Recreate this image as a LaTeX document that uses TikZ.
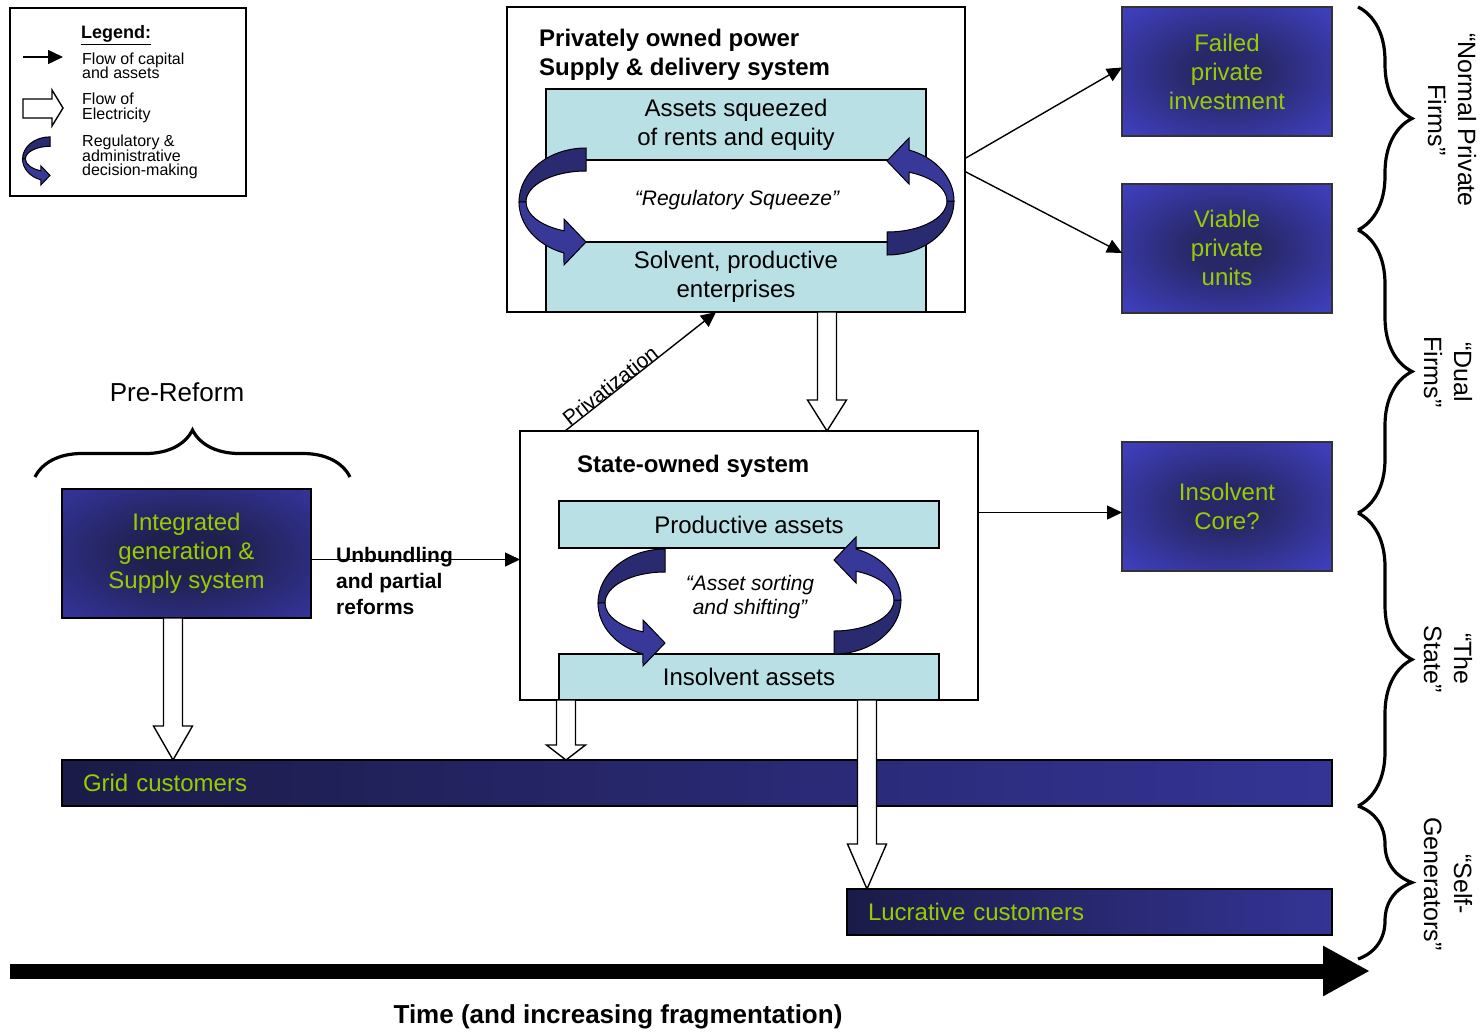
\documentclass[tikz,border=0pt]{standalone}
\usepackage{fontspec}
\setmainfont{Liberation Sans}
\usetikzlibrary{arrows.meta,calc,decorations.pathreplacing}

\definecolor{tealbox}{RGB}{185,224,228}
\definecolor{boxblue}{RGB}{63,63,190}
\definecolor{boxdark}{RGB}{40,40,105}
\definecolor{intblue}{RGB}{51,51,153}
\definecolor{intdark}{RGB}{32,32,78}
\definecolor{barleft}{RGB}{27,27,72}
\definecolor{barright}{RGB}{52,52,150}
\definecolor{limetext}{RGB}{153,204,0}
\definecolor{ribbondark}{RGB}{42,42,112}
\definecolor{ribbonlight}{RGB}{56,56,152}

\pgfdeclareradialshading{glowblue}{\pgfpoint{0bp}{0bp}}{%
  color(0bp)=(boxdark); color(9bp)=(boxdark); color(34bp)=(boxblue); color(50bp)=(boxblue)}
\pgfdeclareradialshading{glowint}{\pgfpoint{0bp}{0bp}}{%
  color(0bp)=(intdark); color(9bp)=(intdark); color(34bp)=(intblue); color(50bp)=(intblue)}

\lineskiplimit=-20pt

% hollow electricity arrow pointing down: from, to, head length
\newcommand{\elecdown}[3]{%
  \draw[elec] let \p1=#1, \p2=#2 in
    (\x1-9.5pt,\y1) -- (\x1-9.5pt,\y2+#3pt) -- (\x1-19.5pt,\y2+#3pt) -- (\x1,\y2)
    -- (\x1+19.5pt,\y2+#3pt) -- (\x1+9.5pt,\y2+#3pt) -- (\x1+9.5pt,\y1) -- cycle;}

\begin{document}
\begin{tikzpicture}[x=1pt, y=-1pt,
    sysbox/.style={draw, line width=1.6pt, fill=white, anchor=north west, outer sep=0pt},
    assetbox/.style={draw, line width=1.4pt, fill=tealbox, align=center, anchor=north west, outer sep=0pt,
      minimum width=380pt, font=\fontsize{24}{29}\selectfont},
    outcome/.style={draw=black!80, line width=2pt, shade, shading=glowblue, text=limetext, align=center,
      outer sep=0pt, minimum width=210pt, minimum height=129pt, font=\fontsize{24}{29}\selectfont},
    custbar/.style={draw, line width=2pt, left color=barleft, right color=barright, text=limetext, align=left,
      anchor=north west, outer sep=0pt, minimum height=46pt, inner xsep=21pt, font=\fontsize{24}{29}\selectfont},
    capflow/.style={-{Triangle[length=15pt,width=14pt]}, line width=1.4pt},
    elec/.style={draw, line width=1.4pt, fill=white},
    groupbrace/.style={decorate, decoration={brace, amplitude=54pt}, line width=3.2pt},
    grouplabel/.style={rotate=-90, align=center, font=\fontsize{25}{30}\selectfont},
    bigtitle/.style={align=left, anchor=west, inner sep=0pt, font=\fontsize{24}{29}\selectfont\bfseries},
    legtext/.style={align=left, anchor=west, inner sep=0pt, font=\fontsize{16}{14.5}\selectfont},
    quote/.style={align=center, font=\fontsize{21}{24}\selectfont\itshape},
    turnarrow/.pic={
      % back half of the ribbon
      \filldraw[fill=ribbondark, line width=1pt] (0,-54) arc[start angle=-90, end angle=-180, x radius=67, y radius=54]
        -- (-60,0) arc[start angle=180, end angle=270, x radius=60, y radius=31] -- cycle;
      % front half with the head
      \filldraw[fill=ribbonlight, line width=1pt] (-67,0) arc[start angle=180, end angle=109.2, x radius=67, y radius=54]
        -- (-22,63) -- (0,40) -- (-22,17) -- (-22,28.8)
        arc[start angle=111.5, end angle=180, x radius=60, y radius=31] -- cycle;
    }]
    \useasboundingbox (0,0) rectangle (1483,1031);

    % Legend
    \node[draw, line width=1.4pt, anchor=north west, outer sep=0pt, minimum width=236pt, minimum height=188pt] (legend) at (10,8) {};
    \node[font=\fontsize{18}{20}\selectfont\bfseries] (legtitle) at (116,35) {\underline{Legend:}};
    \coordinate (capA) at (23,57);
    \coordinate (capB) at (63,57);
    \draw[capflow] (capA) -- (capB);
    \draw[elec] (23,99) -- (52,99) -- (52,90) -- (63,108) -- (52,126) -- (52,118) -- (23,118) -- cycle;
    \pic[scale=0.41] at (50,159) {turnarrow};
    \node[legtext] (legcap) at (82,66) {Flow of capital\\and assets};
    \node[legtext] (legelec) at (82,108) {Flow of\\Electricity};
    \node[legtext] (legreg) at (82,157) {Regulatory \&\\administrative\\decision-making};

    % Privately owned system
    \node[sysbox, minimum width=458pt, minimum height=305pt] (privbox) at (507,7) {};
    \node[assetbox, minimum height=71pt] (squeezed) at (546,89) {Assets squeezed\\of rents and equity};
    \node[assetbox, minimum height=70pt] (solvent) at (546,242) {Solvent, productive\\enterprises};
    \node[bigtitle] (privtitle) at (539,55) {Privately owned power\\Supply \& delivery system};
    \node[quote] (regsq) at (737,200) {“Regulatory Squeeze”};
    \pic at (586,202) {turnarrow};
    \pic[rotate=180] at (887,201) {turnarrow};

    % State-owned system
    \node[sysbox, minimum width=458pt, minimum height=269pt] (state) at (520,431) {};
    \node[assetbox, minimum height=47pt] (productive) at (559,501) {Productive assets};
    \node[assetbox, minimum height=46pt] (insolvent) at (559,654) {Insolvent assets};
    \node[bigtitle] (statetitle) at (577,466) {State-owned system};
    \node[quote] (sorting) at (750,597) {“Asset sorting\\and shifting”};
    \pic at (665,603) {turnarrow};
    \pic[rotate=180] at (834,600) {turnarrow};

    % Pre-reform system
    \node[font=\fontsize{26}{30}\selectfont] (prereform) at (177,392) {Pre-Reform};
    \draw[groupbrace, decoration={brace, amplitude=47pt}] (35,477) -- (350,477);
    \node[outcome, shading=glowint, draw=black, minimum width=249pt] (integrated) at (186.5,553.5) {Integrated\\generation \&\\Supply system};

    % Outcomes
    \node[outcome] (failed) at (1227,71.5) {Failed\\private\\investment};
    \node[outcome] (viable) at (1227,248) {Viable\\private\\units};
    \node[outcome] (core) at (1227,506.5) {Insolvent\\Core?};

    % Customers
    \node[custbar, text width=1228pt] (grid) at (62,760) {Grid customers};
    \node[custbar, text width=443pt] (lucrative) at (847,889) {Lucrative customers};

    % Flows of capital and assets
    \draw[capflow] ($(privbox.east)+(0,-1)$) -- ($(failed.west)+(0,-4)$);
    \draw[capflow] ($(privbox.east)+(0,12)$) -- ($(viable.west)+(0,5)$);
    \draw[capflow] ($(state.east |- core.west)+(0,6)$) -- ($(core.west)+(0,6)$);
    \draw[capflow] ($(integrated.east)+(0,6)$) -- ($(state.west |- integrated.east)+(0,6)$);
    \node[align=left, anchor=west, inner sep=0pt, font=\fontsize{21}{26}\selectfont\bfseries] (unbundling) at (336,581) {Unbundling\\and partial\\reforms};
    \draw[capflow] (state.north -| 565,0) -- (privbox.south -| 716,0)
        node[pos=0.33, sloped, above=-4pt, font=\fontsize{21}{24}\selectfont] (privlabel) {Privatization};

    % Flows of electricity
    \elecdown{(privbox.south -| 827,0)}{(state.north -| 827,0)}{31}
    \elecdown{(integrated.south -| 173,0)}{(grid.north -| 173,0)}{34}
    \elecdown{(state.south -| 566,0)}{(grid.north -| 566,0)}{15}
    \elecdown{(insolvent.south -| 867,0)}{(lucrative.north -| 867,0)}{45}

    % Time axis
    \coordinate (tstart) at (10,971);
    \coordinate (tend) at (1370,971);
    \draw[line width=15pt, -{Triangle[length=47pt,width=47pt]}] (tstart) -- (tend);
    \node[font=\fontsize{26}{30}\selectfont\bfseries] (timelabel) at (618,1017) {Time (and increasing fragmentation)};

    % Groups of firms
    \draw[groupbrace] (1358,7) -- (1358,230);
    \draw[groupbrace] (1358,230) -- (1358,513);
    \draw[groupbrace] (1358,513) -- (1358,806);
    \draw[groupbrace] (1358,806) -- (1358,959);
    \node[grouplabel] (normal) at (1452,120) {“Normal Private\\Firms”};
    \node[grouplabel] (dual) at (1448,372) {“Dual\\Firms”};
    \node[grouplabel] (thestate) at (1448,659) {“The\\State”};
    \node[grouplabel] (selfgen) at (1448,884) {“Self-\\Generators”};
\end{tikzpicture}
\end{document}
